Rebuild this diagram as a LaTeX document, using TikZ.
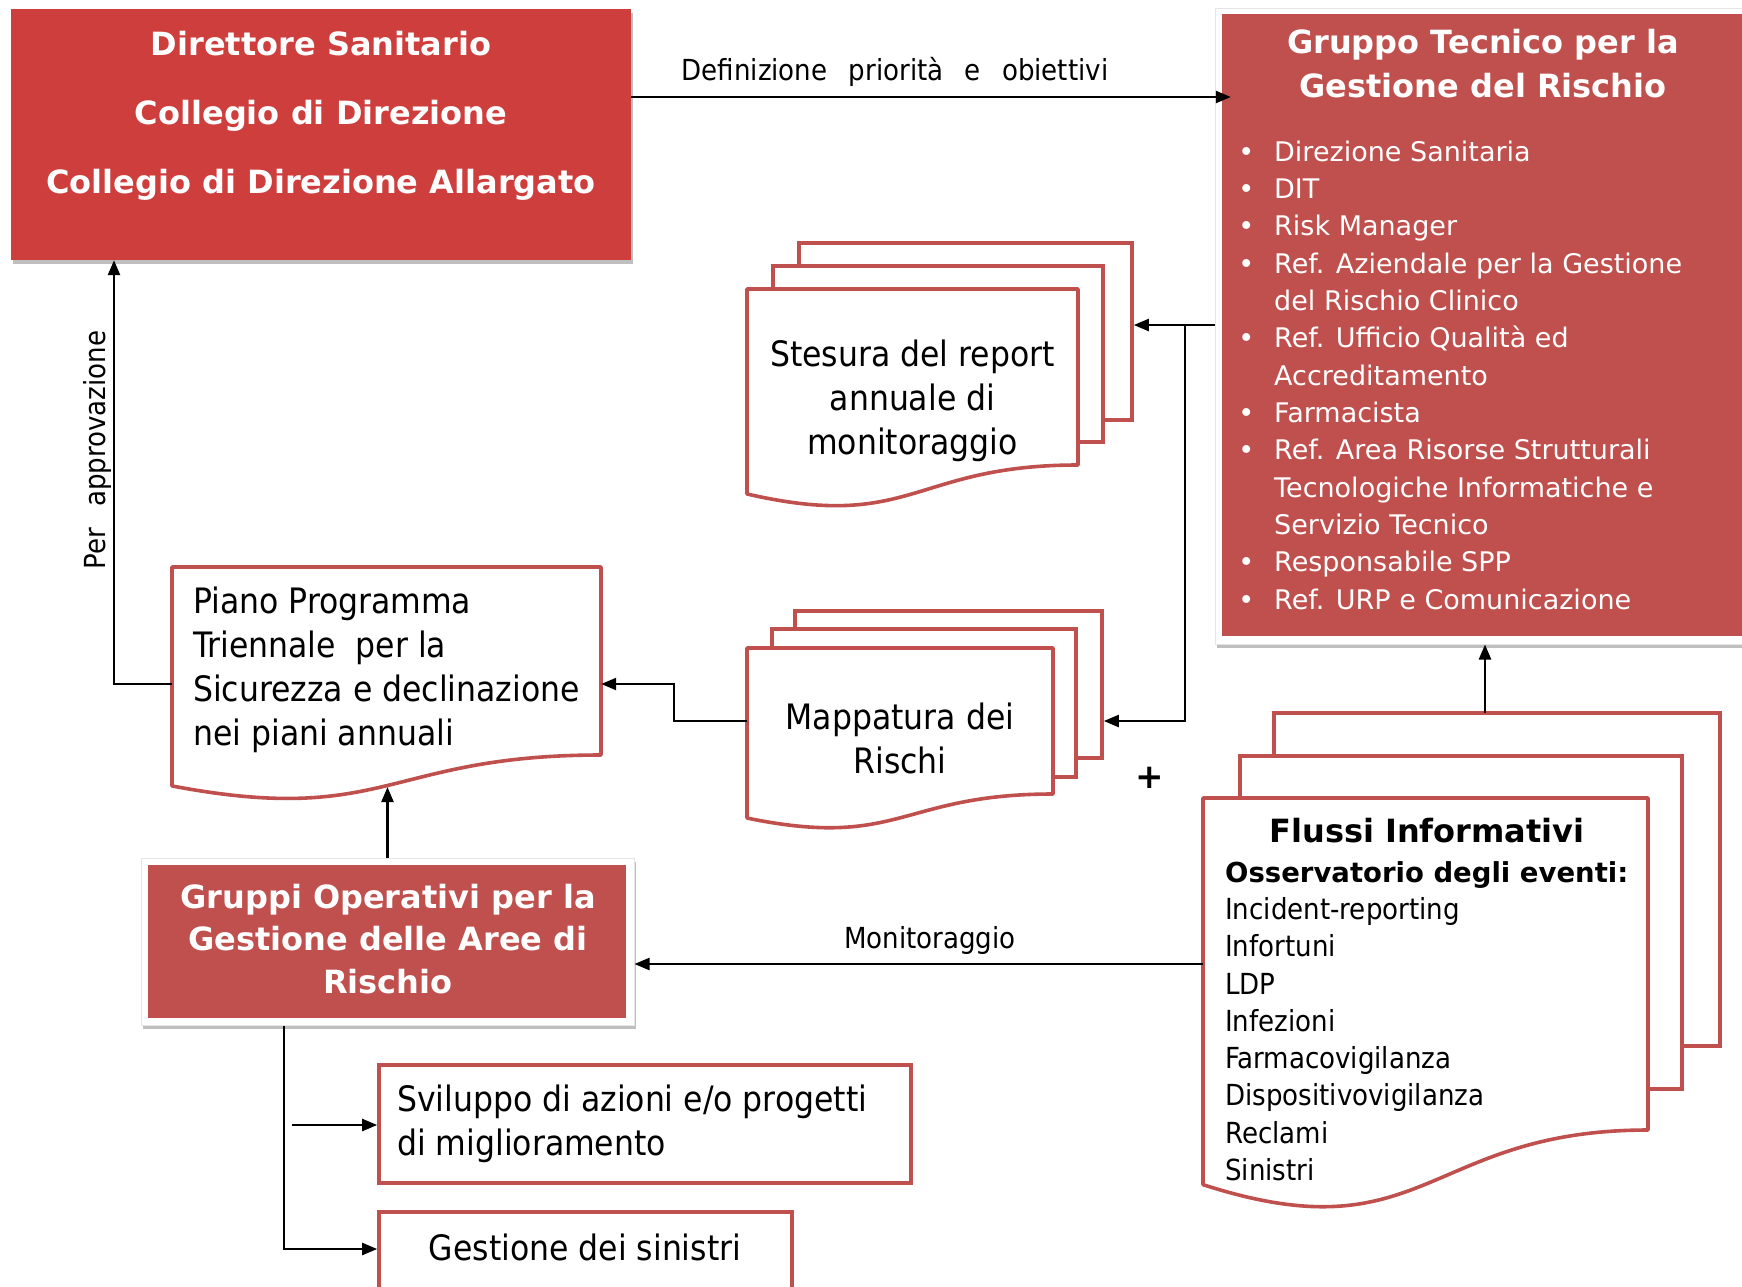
\documentclass[tikz,border=0pt]{standalone}
\usepackage{fontspec}
\setmainfont{DejaVu Sans}
\newfontfamily\condfont{DejaVu Sans Condensed}
\usetikzlibrary{arrows.meta,shadows,calc}

\definecolor{dirred}{RGB}{205,62,61}
\definecolor{panelred}{RGB}{192,80,77}
\definecolor{docred}{RGB}{192,80,77}

% document sheet with a wavy bottom edge: left, top, right, bottom at the right side
\newcommand{\docsheet}[4]{%
  \pgfmathsetmacro{\dsH}{(#4-#2)/0.802}%
  \pgfmathsetmacro{\dsMid}{(#1+#3)/2}%
  \pgfmathsetmacro{\dsLow}{#2+1.1075*\dsH}%
  \pgfmathsetmacro{\dsLeft}{#2+0.934*\dsH}%
  \draw[docline] (#1,#2) -- (#3,#2) -- (#3,#4)
    .. controls (\dsMid,#4) and (\dsMid,\dsLow) .. (#1,\dsLeft) -- cycle;}

\begin{document}
\begin{tikzpicture}[x=1pt,y=-1pt,
  conn/.style={line width=2.4pt, draw=black},
  arr/.style={conn, -{Triangle[length=15pt,width=12pt]}},
  docline/.style={draw=docred, line width=3.6pt, fill=white, line join=round},
  pagebox/.style={draw=docred, line width=3.6pt, fill=white, rectangle, inner sep=0pt},
  ghost/.style={rectangle, inner sep=0pt},
  softshadow/.style={drop shadow={shadow xshift=2pt, shadow yshift=-4pt, opacity=0.25, fill=black}},
  halo/.style={rectangle, inner sep=0pt, fill=white, draw=black!10, line width=1pt, softshadow},
  panel/.style={rectangle, inner sep=0pt, fill=panelred},
  bigtxt/.style={font=\condfont\fontsize{35pt}{44pt}\selectfont, inner sep=0pt, align=center},
  lbltxt/.style={font=\condfont\fontsize{29pt}{35pt}\selectfont, inner sep=0pt},
  headtxt/.style={font=\bfseries\fontsize{32pt}{44pt}\selectfont, text=white, inner sep=0pt, align=center},
  listtxt/.style={font=\fontsize{27pt}{37.33pt}\selectfont, text=white, inner sep=0pt, align=left},
]
\useasboundingbox (0,0) rectangle (1742,1286);
\clip (0,0) rectangle (1742,1286);

% ---------- boxes ----------
\node[rectangle, inner sep=0pt, fill=dirred, softshadow,
      minimum width=620pt, minimum height=251pt] (dir) at (321,134.5) {};

\node[halo, minimum width=537pt, minimum height=636pt] (gtOuter) at (1483.5,326) {};
\node[panel, minimum width=523pt, minimum height=622pt] (gtRed) at (1483.5,325) {};

\node[halo, minimum width=493pt, minimum height=167pt] (gopOuter) at (387.5,941.5) {};
\node[panel, minimum width=478pt, minimum height=153pt] (gopRed) at (387,941.5) {};

\node[pagebox, minimum width=532pt, minimum height=118pt] (svil) at (645,1124) {};
\node[pagebox, minimum width=413pt, minimum height=80pt] (gest) at (585.5,1252) {};

% report stack
\node[pagebox, minimum width=333pt, minimum height=177pt] (stB3) at (965.5,331.5) {};
\node[pagebox, minimum width=330pt, minimum height=176pt] (stB2) at (938,354) {};
\docsheet{747}{289}{1078}{465}
\node[ghost, minimum width=331pt, minimum height=176pt] (stF) at (912.5,377) {};

% risk map stack
\node[pagebox, minimum width=307pt, minimum height=147pt] (mapB3) at (948.5,684.5) {};
\node[pagebox, minimum width=304pt, minimum height=148pt] (mapB2) at (924,703) {};
\docsheet{747}{648}{1053}{794}
\node[ghost, minimum width=306pt, minimum height=146pt] (mapF) at (900,721) {};

% information flow stack
\node[pagebox, minimum width=446pt, minimum height=333pt] (fluB3) at (1497,879.5) {};
\node[pagebox, minimum width=442pt, minimum height=333pt] (fluB2) at (1461,922.5) {};
\docsheet{1203}{798}{1648}{1130}
\node[ghost, minimum width=445pt, minimum height=332pt] (fluF) at (1425.5,964) {};

% three-year plan
\docsheet{172}{567}{601}{755}
\node[ghost, minimum width=429pt, minimum height=188pt] (piano) at (386.5,661) {};

% ---------- connector anchors ----------
\coordinate (defY) at (0,97);
\coordinate (split) at (1185,325);
\coordinate (elbowA) at (674,684);
\coordinate (elbowB) at (114,684);
\coordinate (pianoLow) at (387.5,787);
\coordinate (flUp) at (1485,713);
\coordinate (trunk) at (284,1249);
\coordinate (svStart) at (292,1125);

% ---------- connectors ----------
\draw[arr] (dir.east |- defY) -- ([xshift=9pt]defY -| gtRed.west);
\draw[arr] (split -| gtOuter.west) -- (split -| stB3.east);
\draw[arr] (split) |- (mapF.west -| mapB3.east);
\draw[arr] (mapF.west) -| (elbowA) -- (elbowA -| piano.east);
\draw[arr] (elbowA -| piano.west) -- (elbowB) -- (elbowB |- dir.south);
\draw[arr] (gopOuter.north) -- (pianoLow);
\draw[arr] (fluF.west) -- (fluF.west -| gopOuter.east);
\draw[arr] (flUp) -- (flUp |- gtOuter.south);
\draw[arr] (gopOuter.south -| trunk) -- (trunk) -- (trunk -| gest.west);
\draw[arr] (svStart) -- (svStart -| svil.west);

% ---------- texts ----------
\node[headtxt, font=\bfseries\fontsize{32pt}{69pt}\selectfont] (dirTxt) at (321,116)
  {Direttore Sanitario\\Collegio di Direzione\\Collegio di Direzione Allargato};

\node[headtxt] (gtTitle) at (1483,64) {Gruppo Tecnico per la\\Gestione del Rischio};
\node[listtxt, anchor=west] (gtList) at (1274,375) {%
  \llap{•\hspace{20pt}}Direzione Sanitaria\\
  \llap{•\hspace{20pt}}DIT\\
  \llap{•\hspace{20pt}}Risk Manager\\
  \llap{•\hspace{20pt}}Ref. Aziendale per la Gestione\\
  del Rischio Clinico\\
  \llap{•\hspace{20pt}}Ref. Ufficio Qualità ed\\
  Accreditamento\\
  \llap{•\hspace{20pt}}Farmacista\\
  \llap{•\hspace{20pt}}Ref. Area Risorse Strutturali\\
  Tecnologiche Informatiche e\\
  Servizio Tecnico\\
  \llap{•\hspace{20pt}}Responsabile SPP\\
  \llap{•\hspace{20pt}}Ref. URP e Comunicazione};

\node[bigtxt] (stTxt) at (912.5,400.5) {Stesura del report\\annuale di\\monitoraggio};
\node[bigtxt] (mapTxt) at (900,738) {Mappatura dei\\Rischi};
\node[bigtxt, align=left, anchor=west] (pianoTxt) at (193,670)
  {Piano Programma\\Triennale\hspace{10pt} per la\\Sicurezza e declinazione\\nei piani annuali};
\node[headtxt, font=\bfseries\fontsize{32pt}{42.5pt}\selectfont] (gopTxt) at (388,939)
  {Gruppi Operativi per la\\Gestione delle Aree di\\Rischio};
\node[bigtxt, align=left, anchor=west] (svilTxt) at (397,1124)
  {Sviluppo di azioni e/o progetti\\di miglioramento};
\node[bigtxt] (gestTxt) at (585,1247) {Gestione dei sinistri};

\node[inner sep=0pt, font=\bfseries\fontsize{32pt}{40pt}\selectfont] (fluTitle) at (1427,831) {Flussi Informativi};
\node[inner sep=0pt, anchor=west, align=left, font=\condfont\fontsize{29pt}{37.25pt}\selectfont] (fluList) at (1225,1021)
  {{\rmfamily\bfseries\fontsize{27.5pt}{37.25pt}\selectfont Osservatorio degli eventi:}\\
   Incident-reporting\\Infortuni\\LDP\\Infezioni\\Farmacovigilanza\\Dispositivovigilanza\\Reclami\\Sinistri};

\node[lbltxt] (defLbl) at (895,72) {Definizione\hspace{13pt} priorità\hspace{13pt} e\hspace{13pt} obiettivi};
\node[lbltxt, rotate=90] (apprLbl) at (97,450) {Per\hspace{13pt} approvazione};
\node[lbltxt] (monLbl) at (930,940) {Monitoraggio};
\node[inner sep=0pt, font=\bfseries\fontsize{34pt}{40pt}\selectfont] (plus) at (1150,778) {+};

\end{tikzpicture}
\end{document}
